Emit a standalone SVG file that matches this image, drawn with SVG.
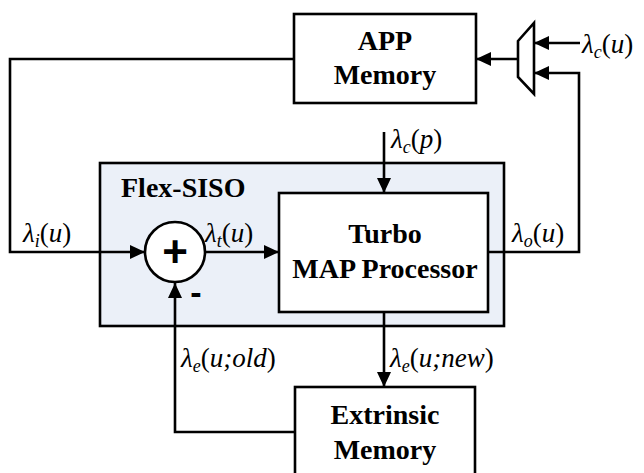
<svg xmlns="http://www.w3.org/2000/svg" width="644" height="473" viewBox="0 0 644 473">
<defs>
<marker id="arr" markerUnits="userSpaceOnUse" markerWidth="16" markerHeight="14" refX="15" refY="7" orient="auto">
<path d="M0,0 L15,7 L0,14 Z" fill="#000"/>
</marker>
<style>
.box{fill:#fff;stroke:#000;stroke-width:2.6}
.flex{fill:#EBF0F8;stroke:#000;stroke-width:2.6}
.ln{fill:none;stroke:#000;stroke-width:2.6}
.ser{font-family:'Liberation Serif','Times New Roman',Times,Tinos,'Nimbus Roman','Nimbus Roman No9 L',FreeSerif,'DejaVu Serif','Noto Serif',serif}
.bt{font-weight:bold;font-size:28px;text-anchor:middle;fill:#000}
.lb{font-size:27px;fill:#000}
.it{font-style:italic}
.sub{font-size:18px;font-style:italic}
</style>
</defs>
<g id="flex-siso">
<rect class="flex" x="100" y="163" width="404" height="163"/>
<text class="bt ser" x="121" y="197" style="text-anchor:start">Flex-SISO</text>
</g>
<g id="app-memory">
<rect class="box" x="294" y="14" width="182" height="89"/>
<text class="bt ser" x="385" y="50">APP</text>
<text class="bt ser" x="385" y="84">Memory</text>
</g>
<g id="mux">
<polygon points="518,41 534,23 534,94 518,77" fill="#fff" stroke="#000" stroke-width="2.6"/>
</g>
<g id="turbo">
<rect class="box" x="279" y="193" width="209" height="119"/>
<text class="bt ser" x="385" y="243">Turbo</text>
<text class="bt ser" x="385" y="278">MAP Processor</text>
</g>
<g id="adder">
<circle cx="175" cy="252" r="30" fill="#fff" stroke="#000" stroke-width="2.6"/>
<text x="175" y="267" font-family="Liberation Sans, Arial, sans-serif" font-weight="bold" font-size="44" text-anchor="middle">+</text>
<text x="196" y="304" font-family="Liberation Sans, Arial, sans-serif" font-weight="bold" font-size="34" text-anchor="middle">-</text>
</g>
<g id="extrinsic-memory">
<rect class="box" x="295" y="387" width="180" height="89"/>
<text class="bt ser" x="385" y="424">Extrinsic</text>
<text class="bt ser" x="385" y="459">Memory</text>
</g>
<g id="connectors">
<path class="ln" d="M294,59 H10 V252 H145" marker-end="url(#arr)"/>
<path class="ln" d="M205,252 H279" marker-end="url(#arr)"/>
<path class="ln" d="M488,252 H579 V73 H534" marker-end="url(#arr)"/>
<path class="ln" d="M580,43 H534" marker-end="url(#arr)"/>
<path class="ln" d="M518,59 H476" marker-end="url(#arr)"/>
<path class="ln" d="M384,132 V193" marker-end="url(#arr)"/>
<path class="ln" d="M384,312 V387" marker-end="url(#arr)"/>
<path class="ln" d="M295,432 H175 V283" marker-end="url(#arr)"/>
</g>
<g id="labels">
<text class="lb ser" x="582" y="53"><tspan class="it">λ</tspan><tspan class="sub" dy="5">c</tspan><tspan dy="-5">(</tspan><tspan class="it">u</tspan>)</text>
<text class="lb ser" x="391" y="148"><tspan class="it">λ</tspan><tspan class="sub" dy="5">c</tspan><tspan dy="-5">(</tspan><tspan class="it">p</tspan>)</text>
<text class="lb ser" x="23" y="242"><tspan class="it">λ</tspan><tspan class="sub" dy="5">i</tspan><tspan dy="-5">(</tspan><tspan class="it">u</tspan>)</text>
<text class="lb ser" x="205" y="242"><tspan class="it">λ</tspan><tspan class="sub" dy="5">t</tspan><tspan dy="-5">(</tspan><tspan class="it">u</tspan>)</text>
<text class="lb ser" x="512" y="242"><tspan class="it">λ</tspan><tspan class="sub" dy="5">o</tspan><tspan dy="-5">(</tspan><tspan class="it">u</tspan>)</text>
<text class="lb ser" x="181" y="367"><tspan class="it">λ</tspan><tspan class="sub" dy="5">e</tspan><tspan dy="-5">(</tspan><tspan class="it">u;old</tspan>)</text>
<text class="lb ser" x="390" y="367"><tspan class="it">λ</tspan><tspan class="sub" dy="5">e</tspan><tspan dy="-5">(</tspan><tspan class="it">u;new</tspan>)</text>
</g>
</svg>
